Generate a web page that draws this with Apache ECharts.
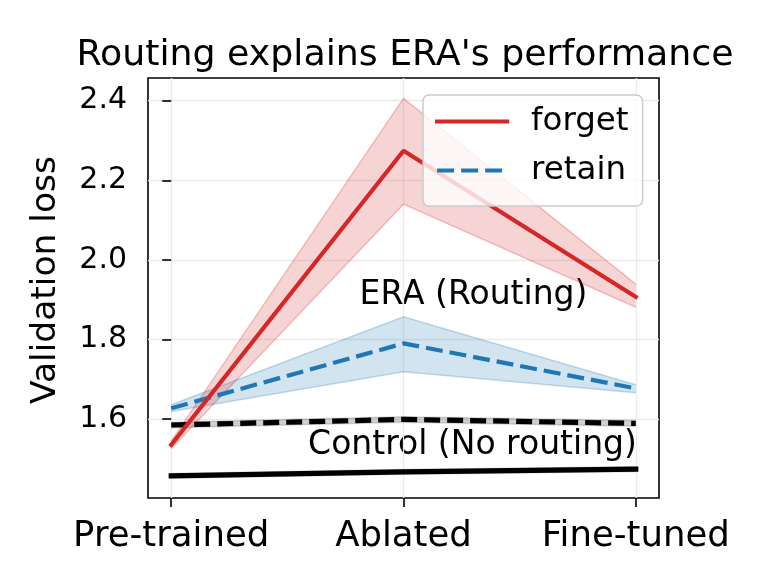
<!DOCTYPE html>
<html>
<head>
<meta charset="utf-8">
<script src="https://cdn.jsdelivr.net/npm/echarts@6/dist/echarts.min.js"></script>
<style>
html,body{margin:0;padding:0;background:#fff;}
#chart{width:761px;height:587px;}
</style>
</head>
<body>
<div id="chart"></div>
<script>
// ---- data ----
const categories = ['Pre-trained', 'Ablated', 'Fine-tuned'];
const yTicks = [1.6, 1.8, 2.0, 2.2, 2.4];

const eraForget   = [1.535, 2.274, 1.907];
const eraForgetLo = [1.525, 2.140, 1.881];
const eraForgetHi = [1.545, 2.406, 1.939];

const eraRetain   = [1.627, 1.790, 1.677];
const eraRetainLo = [1.619, 1.719, 1.666];
const eraRetainHi = [1.636, 1.857, 1.686];

const ctrlRetain   = [1.585, 1.599, 1.589];
const ctrlRetainLo = [1.578, 1.592, 1.582];
const ctrlRetainHi = [1.592, 1.606, 1.596];

const ctrlForget   = [1.457, 1.467, 1.474];
const ctrlForgetLo = [1.451, 1.461, 1.468];
const ctrlForgetHi = [1.463, 1.473, 1.480];

const title = "Routing explains ERA's performance";
const yName = 'Validation loss';
const annoEra = 'ERA (Routing)';
const annoCtrl = 'Control (No routing)';

// ---- helpers ----
const xIdx = categories.map((c, i) => i);
function pts(vals) { return vals.map((v, i) => [xIdx[i], v]); }
function bandRows(lo, hi) { return lo.map((v, i) => [xIdx[i], v, hi[i]]); }
function bandSeries(name, lo, hi, fill, edge) {
  const n = lo.length;
  return {
    type: 'custom', name: name, silent: true,
    data: bandRows(lo, hi),
    encode: { x: 0, y: [1, 2] },
    renderItem: function (params, api) {
      if (params.dataIndex !== 0) return null;
      const up = [], dn = [];
      for (let i = 0; i < n; i++) {
        up.push(api.coord([api.value(0, i), api.value(2, i)]));
        dn.push(api.coord([api.value(0, i), api.value(1, i)]));
      }
      return {
        type: 'group',
        children: [
          { type: 'polygon', shape: { points: up.concat(dn.slice().reverse()) }, style: { fill: fill, stroke: null } },
          { type: 'polyline', shape: { points: up }, style: { stroke: edge, lineWidth: 1.5, fill: null } },
          { type: 'polyline', shape: { points: dn }, style: { stroke: edge, lineWidth: 1.5, fill: null } }
        ]
      };
    }
  };
}
function lineSeries(name, vals, color, width, dash) {
  return {
    type: 'line', name: name, data: pts(vals), symbol: 'none', showSymbol: false, silent: true,
    lineStyle: { color: color, width: width, type: dash || 'solid', cap: dash ? 'butt' : 'square' },
    itemStyle: { color: color }
  };
}

const RED = '#d62728', BLUE = '#1f77b4';
const font = 'DejaVu Sans';

const chart = echarts.init(document.getElementById('chart'), null, { renderer: 'canvas' });
chart.setOption({
  animation: false,
  backgroundColor: '#ffffff',
  textStyle: { fontFamily: font },
  title: {
    text: title, left: 400, top: 33, textAlign: 'center',
    textStyle: { fontFamily: font, fontSize: 36.3, fontWeight: 'normal', color: '#000' }
  },
  grid: {
    left: 148, top: 78, width: 511, height: 420,
    show: true, borderColor: '#000', borderWidth: 1.6, backgroundColor: 'transparent'
  },
  legend: {
    data: ['forget', 'retain'],
    orient: 'vertical', left: 423, top: 95,
    padding: [10, 14, 19, 12], itemGap: 16,
    itemWidth: 70, itemHeight: 20,
    itemStyle: { opacity: 0 },
    lineStyle: { width: 4.2 },
    backgroundColor: 'rgba(255,255,255,0.8)', borderColor: '#cccccc', borderWidth: 1.5, borderRadius: 6,
    textStyle: { fontFamily: font, fontSize: 32.5, color: '#000', padding: [0, 0, 0, 19] }
  },
  xAxis: {
    type: 'value', min: -0.1, max: 2.1,
    axisLine: { show: false },
    axisTick: { show: true, inside: false, length: 9, customValues: xIdx, lineStyle: { color: '#000', width: 1.6 } },
    axisLabel: { customValues: xIdx, margin: 21, fontFamily: font, fontSize: 35.5, color: '#000',
      formatter: function (v) { return categories[Math.round(v)]; } },
    splitLine: { show: true, lineStyle: { color: '#ebebeb', width: 1.3 } }
  },
  yAxis: {
    type: 'value', min: 1.4015, max: 2.457,
    name: yName, nameLocation: 'middle', nameGap: 84, nameRotate: 90,
    nameTextStyle: { fontFamily: font, fontSize: 34.5, color: '#000', padding: [0, 0, 0, 16] },
    axisLine: { show: false },
    axisTick: { show: true, inside: false, length: 9, customValues: yTicks, lineStyle: { color: '#000', width: 1.6 } },
    axisLabel: { customValues: yTicks, margin: 21, fontFamily: font, fontSize: 30, color: '#000',
      formatter: function (v) { return v.toFixed(1); } },
    splitLine: { show: true, lineStyle: { color: '#ebebeb', width: 1.3 } }
  },
  series: [
    bandSeries('ctrlForgetBand', ctrlForgetLo, ctrlForgetHi, 'rgba(0,0,0,0.18)', 'rgba(0,0,0,0.15)'),
    lineSeries('control forget', ctrlForget, '#000', 5.2),
    bandSeries('ctrlRetainBand', ctrlRetainLo, ctrlRetainHi, 'rgba(0,0,0,0.18)', 'rgba(0,0,0,0.15)'),
    lineSeries('control retain', ctrlRetain, '#000', 5.2, [16, 7]),
    bandSeries('retainBand', eraRetainLo, eraRetainHi, 'rgba(31,119,180,0.2)', 'rgba(31,119,180,0.25)'),
    lineSeries('retain', eraRetain, BLUE, 4.2, [17, 7]),
    bandSeries('forgetBand', eraForgetLo, eraForgetHi, 'rgba(214,39,40,0.2)', 'rgba(214,39,40,0.25)'),
    lineSeries('forget', eraForget, RED, 4.2)
  ],
  graphic: [
    { type: 'text', x: 473.5, y: 295.5, silent: true,
      style: { text: annoEra, fontFamily: font, fontSize: 33, fill: '#000', textAlign: 'center', textVerticalAlign: 'middle' } },
    { type: 'text', x: 472.5, y: 445.5, silent: true,
      style: { text: annoCtrl, fontFamily: font, fontSize: 33, fill: '#000', textAlign: 'center', textVerticalAlign: 'middle' } }
  ]
});
</script>
</body>
</html>
